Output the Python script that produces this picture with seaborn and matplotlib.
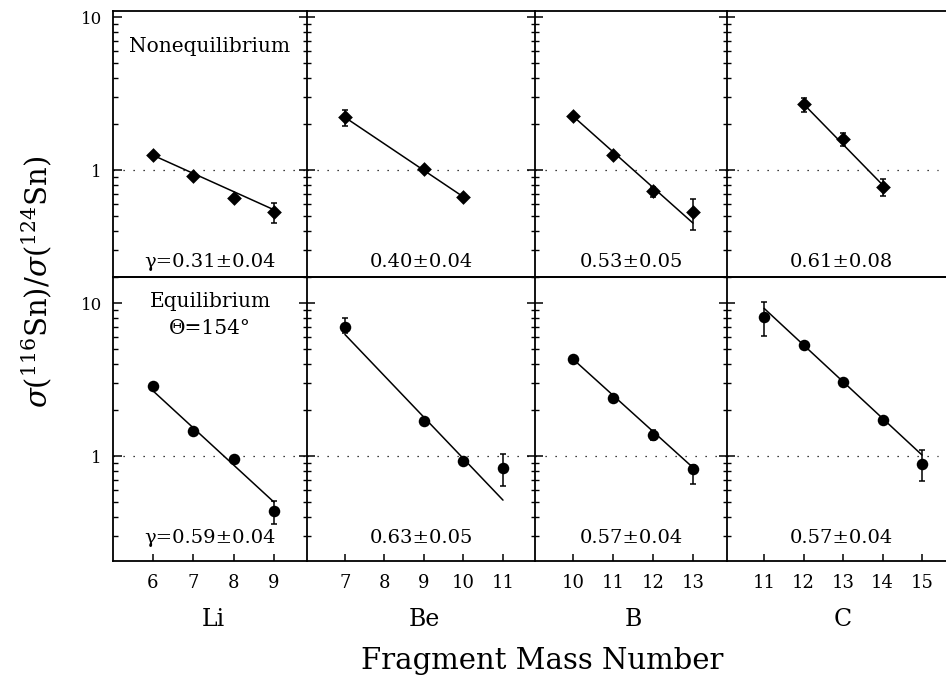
import numpy as np
import pandas as pd
import matplotlib
matplotlib.use("Agg")
import matplotlib.pyplot as plt
import seaborn as sns
from matplotlib.ticker import FixedLocator, NullFormatter, FixedFormatter
from matplotlib.patches import Rectangle

sns.set_style("white")
plt.rcParams['font.family'] = ['DejaVu Serif']
plt.rcParams['mathtext.fontset'] = 'dejavuserif'
plt.rcParams['text.color'] = 'black'
plt.rcParams['axes.labelcolor'] = 'black'
plt.rcParams['xtick.color'] = 'black'
plt.rcParams['ytick.color'] = 'black'

# ---------------- data ----------------
elements = ["Li", "Be", "B", "C"]
xticks = [[6, 7, 8, 9], [7, 8, 9, 10, 11], [10, 11, 12, 13], [11, 12, 13, 14, 15]]
xlims = [(5.01, 9.82), (6.04, 11.81), (9.05, 13.85), (10.06, 15.86)]

# Nonequilibrium (top row, diamonds)
neq_A = [[6, 7, 8, 9], [7, 9, 10], [10, 11, 12, 13], [12, 13, 14]]
neq_R = [[1.25, 0.92, 0.656, 0.53], [2.21, 1.02, 0.667], [2.25, 1.25, 0.73, 0.53], [2.70, 1.59, 0.778]]
neq_elo = [[0, 0, 0, 0.08], [0.27, 0, 0], [0, 0, 0.066, 0.125], [0.30, 0.155, 0.10]]
neq_ehi = [[0, 0, 0, 0.08], [0.26, 0, 0], [0, 0, 0.05, 0.12], [0.24, 0.15, 0.10]]
neq_fitA = [[6, 9], [7, 10], [10, 13], [12, 14]]
neq_fitR = [[1.25, 0.55], [2.21, 0.667], [2.25, 0.45], [2.70, 0.80]]
neq_gamma = ["γ=0.31±0.04", "0.40±0.04", "0.53±0.05", "0.61±0.08"]

# Equilibrium (bottom row, circles)
eq_A = [[6, 7, 8, 9], [7, 9, 10, 11], [10, 11, 12, 13], [11, 12, 13, 14, 15]]
eq_R = [[2.87, 1.46, 0.95, 0.435], [7.0, 1.70, 0.93, 0.83], [4.30, 2.38, 1.37, 0.818], [8.13, 5.31, 3.03, 1.72, 0.887]]
eq_elo = [[0, 0, 0, 0.075], [0.63, 0, 0, 0.19], [0, 0, 0.10, 0.16], [2.0, 0, 0, 0, 0.2]]
eq_ehi = [[0, 0, 0, 0.075], [0.98, 0, 0, 0.20], [0, 0, 0.11, 0.06], [2.07, 0, 0, 0, 0.2]]
eq_fitA = [[6, 9], [7, 11], [10, 13], [11, 15]]
eq_fitR = [[2.67, 0.50], [6.23, 0.515], [4.30, 0.84], [9.23, 1.015]]
eq_gamma = ["γ=0.59±0.04", "0.63±0.05", "0.57±0.04", "0.57±0.04"]

# ---------------- layout ----------------
W, H = 946, 677
fig = plt.figure(figsize=(W / 100, H / 100), dpi=100)
col_px = [113, 307, 535, 727, 956]
row_px = [11, 277, 561]
ylims = [(0.2, 10.95), (0.206, 14.8)]

def rect(c, r):
    x0, x1 = col_px[c], col_px[c + 1]
    y0, y1 = row_px[r], row_px[r + 1]
    return [x0 / W, 1 - y1 / H, (x1 - x0) / W, (y1 - y0) / H]

minor_vals = [0.2, 0.3, 0.4, 0.5, 0.6, 0.7, 0.8, 0.9, 2, 3, 4, 5, 6, 7, 8, 9]

rows = [
    (neq_A, neq_R, neq_elo, neq_ehi, neq_fitA, neq_fitR, neq_gamma, "D", 7.5),
    (eq_A, eq_R, eq_elo, eq_ehi, eq_fitA, eq_fitR, eq_gamma, "o", 8.3),
]

for r, (A, R, elo, ehi, fA, fR, gam, mk, ms) in enumerate(rows):
    for c in range(4):
        ax = fig.add_axes(rect(c, r))
        ax.set_facecolor("none")
        ax.set_yscale("log")
        ax.set_ylim(*ylims[r])
        ax.set_xlim(*xlims[c])
        # dotted line at 1 (stops short of the cropped right edge in the last column)
        if c == 3:
            ax.plot([xlims[c][0], 15.4], [1.0, 1.0], color="black", lw=0.9, ls=(0, (1, 7)), zorder=1)
        else:
            ax.axhline(1.0, color="black", lw=0.9, ls=(0, (1, 7)), zorder=1)
        # fit line
        fit_df = pd.DataFrame({"A": fA[c], "R": fR[c]})
        sns.lineplot(data=fit_df, x="A", y="R", ax=ax, color="black", lw=1.1, zorder=2)
        # error bars
        ea = np.array(A[c], dtype=float)
        er = np.array(R[c], dtype=float)
        lo = np.array(elo[c]); hi = np.array(ehi[c])
        msk = (lo + hi) > 0
        if msk.any():
            ax.errorbar(ea[msk], er[msk], yerr=[lo[msk], hi[msk]], fmt="none",
                        ecolor="black", elinewidth=1.1, capsize=2.2, capthick=1.1, zorder=3)
        pts_df = pd.DataFrame({"A": A[c], "R": R[c]})
        sns.scatterplot(data=pts_df, x="A", y="R", ax=ax, marker=mk, s=ms ** 2,
                        color="black", edgecolor="black", linewidth=0, zorder=4)
        ax.set_xlabel("")
        ax.set_ylabel("")
        # y ticks
        ax.yaxis.set_major_locator(FixedLocator([1, 10]))
        ax.yaxis.set_minor_locator(FixedLocator(minor_vals))
        ax.yaxis.set_minor_formatter(NullFormatter())
        if c == 0:
            ax.yaxis.set_major_formatter(FixedFormatter(["1", "10"]))
            ax.tick_params(axis="y", which="major", direction="in", length=6.5, width=1.1,
                           labelsize=12, pad=8, left=True, right=False)
            ax.tick_params(axis="y", which="minor", direction="in", length=3.5, width=1.0,
                           left=True, right=False)
        else:
            ax.yaxis.set_major_formatter(NullFormatter())
            ax.tick_params(axis="y", which="major", direction="inout", length=12, width=1.1,
                           left=True, right=False, labelleft=False)
            ax.tick_params(axis="y", which="minor", direction="inout", length=6, width=1.0,
                           left=True, right=False, labelleft=False)
        # x ticks
        ax.xaxis.set_major_locator(FixedLocator(xticks[c]))
        ax.xaxis.set_minor_locator(FixedLocator([]))
        if r == 1:
            ax.set_xticklabels([str(v) for v in xticks[c]])
            ax.tick_params(axis="x", which="major", direction="in", length=5, width=1.1,
                           labelsize=13, pad=9, bottom=True, top=False)
            ax.text(np.mean(xticks[c]), -0.205, elements[c], transform=ax.get_xaxis_transform(),
                    ha="center", va="center", fontsize=17)
        else:
            ax.tick_params(axis="x", which="both", bottom=False, top=False, labelbottom=False)
        for sp in ax.spines.values():
            sp.set_color("black")
            sp.set_linewidth(1.3)
        ax.spines["right"].set_visible(False)
        # gamma text
        gy = 0.055 if r == 0 else 0.08
        ax.text(0.5, gy, gam[c], transform=ax.transAxes,
                ha="center", va="center", fontsize=14)
        if c == 0 and r == 0:
            ax.text(0.5, 0.865, "Nonequilibrium", transform=ax.transAxes, ha="center",
                    va="center", fontsize=14.5)
        if c == 0 and r == 1:
            ax.text(0.5, 0.915, "Equilibrium", transform=ax.transAxes, ha="center",
                    va="center", fontsize=14.5)
            ax.text(0.5, 0.82, "Θ=154°", transform=ax.transAxes, ha="center",
                    va="center", fontsize=14.5)

fig.text(37 / W, 1 - 282 / H, r"$\sigma(^{116}\mathrm{Sn})/\sigma(^{124}\mathrm{Sn})$",
         rotation=90, ha="center", va="center", fontsize=21)
fig.text(542 / W, 1 - 661 / H, "Fragment Mass Number", ha="center", va="center", fontsize=21)

# white strip over the last couple of pixel columns (image is cropped there)
strip = Rectangle((944 / W, 1 - 275 / H), 2 / W, 250 / H, transform=fig.transFigure,
                  facecolor="white", edgecolor="none", zorder=100)
fig.add_artist(strip)

fig.savefig("out.png", dpi=100, facecolor="white")
